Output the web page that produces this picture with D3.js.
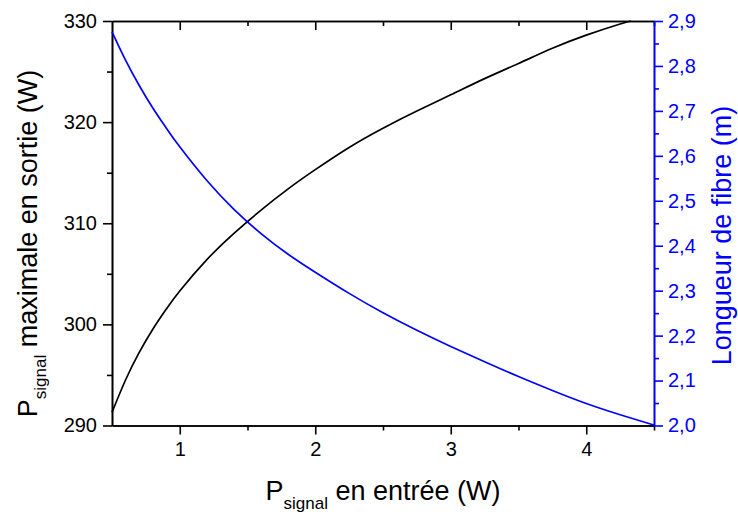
<!DOCTYPE html>
<html lang="fr">
<head>
<meta charset="UTF-8">
<title>Puissance de sortie et longueur de fibre</title>
<script src="https://cdn.jsdelivr.net/npm/d3@7/dist/d3.min.js"></script>
<style>
    body { margin: 0; background: #fff; }
    svg { display: block; font-family: "Liberation Sans", Arial, sans-serif; }
</style>
</head>
<body>
<div id="chart"></div>
<script>
    // P signal en entrée (W) -> P signal maximale en sortie (W)
    const pInSortie = [0.5, 0.6, 0.7, 0.8, 0.9, 1.0, 1.2, 1.4, 1.6, 1.8, 2.0, 2.25, 2.5, 2.75, 3.0, 3.25, 3.5, 3.75, 4.0, 4.25, 4.33];
    const pSortie   = [291.3, 294.5, 297.2, 299.5, 301.5, 303.3, 306.4, 309.0, 311.3, 313.4, 315.3, 317.5, 319.4, 321.1, 322.7, 324.3, 325.8, 327.3, 328.6, 329.7, 330.0];

    // P signal en entrée (W) -> longueur de fibre (m)
    const pInFibre  = [0.5, 0.6, 0.7, 0.8, 0.9, 1.0, 1.2, 1.4, 1.6, 1.8, 2.0, 2.25, 2.5, 2.75, 3.0, 3.25, 3.5, 3.75, 4.0, 4.25, 4.5];
    const longueur  = [2.876, 2.813, 2.757, 2.707, 2.662, 2.620, 2.545, 2.481, 2.427, 2.381, 2.341, 2.294, 2.251, 2.212, 2.176, 2.142, 2.109, 2.078, 2.049, 2.024, 2.001];

    // ticks
    const xTicks = [1, 2, 3, 4];
    const xMinor = [1.5, 2.5, 3.5, 4.5];
    const yLeftTicks = [290, 300, 310, 320, 330];
    const yLeftMinor = [295, 305, 315, 325];
    const yRightTicks = [2.0, 2.1, 2.2, 2.3, 2.4, 2.5, 2.6, 2.7, 2.8, 2.9];
    const yRightMinor = [2.05, 2.15, 2.25, 2.35, 2.45, 2.55, 2.65, 2.75, 2.85];

    const width = 738, height = 514;
    const mLeft = 112, mRight = 654, mTop = 21, mBottom = 425.5;
    const bleu = "#0000ff";

    const x = d3.scaleLinear().domain([0.5, 4.5]).range([mLeft, mRight]);
    const yL = d3.scaleLinear().domain([290, 330]).range([mBottom, mTop]);
    const yR = d3.scaleLinear().domain([2.0, 2.9]).range([mBottom, mTop]);

    const svg = d3.select("#chart").append("svg")
        .attr("width", width)
        .attr("height", height);

    const fmtR = d => d3.format(".1f")(d).replace(".", ",");

    function style(g, color) {
        g.attr("font-family", null).attr("font-size", null);
        g.select(".domain").attr("stroke", color).attr("stroke-width", 1.6);
        g.selectAll(".tick line").attr("stroke", color).attr("stroke-width", 1.6);
        g.selectAll(".tick text").attr("fill", color).attr("font-size", 20);
    }

    // bas
    svg.append("g").attr("transform", `translate(0,${mBottom})`)
        .call(d3.axisBottom(x).tickValues(xMinor).tickSize(5).tickSizeOuter(0).tickFormat(""))
        .call(g => style(g, "#000"));
    svg.append("g").attr("transform", `translate(0,${mBottom})`)
        .call(d3.axisBottom(x).tickValues(xTicks).tickSize(9).tickSizeOuter(0).tickPadding(7).tickFormat(d3.format("d")))
        .call(g => style(g, "#000"));

    // haut (ticks vers l'intérieur)
    svg.append("g").attr("transform", `translate(0,${mTop})`)
        .call(d3.axisBottom(x).tickValues(xMinor).tickSize(5).tickSizeOuter(0).tickFormat(""))
        .call(g => style(g, "#000"));
    svg.append("g").attr("transform", `translate(0,${mTop})`)
        .call(d3.axisBottom(x).tickValues(xTicks).tickSize(9).tickSizeOuter(0).tickFormat(""))
        .call(g => style(g, "#000"));

    // gauche
    svg.append("g").attr("transform", `translate(${mLeft},0)`)
        .call(d3.axisLeft(yL).tickValues(yLeftMinor).tickSize(5).tickSizeOuter(0).tickFormat(""))
        .call(g => style(g, "#000"));
    svg.append("g").attr("transform", `translate(${mLeft},0)`)
        .call(d3.axisLeft(yL).tickValues(yLeftTicks).tickSize(9).tickSizeOuter(0).tickPadding(6).tickFormat(d3.format("d")))
        .call(g => style(g, "#000"));

    // droite (bleu)
    svg.append("g").attr("transform", `translate(${mRight},0)`)
        .call(d3.axisRight(yR).tickValues(yRightMinor).tickSize(5).tickSizeOuter(0).tickFormat(""))
        .call(g => style(g, bleu));
    svg.append("g").attr("transform", `translate(${mRight},0)`)
        .call(d3.axisRight(yR).tickValues(yRightTicks).tickSize(9).tickSizeOuter(0).tickPadding(5).tickFormat(fmtR))
        .call(g => style(g, bleu));

    // courbes
    const lineSortie = d3.line()
        .x((d, i) => x(pInSortie[i]))
        .y(d => yL(d))
        .curve(d3.curveNatural);
    const lineFibre = d3.line()
        .x((d, i) => x(pInFibre[i]))
        .y(d => yR(d))
        .curve(d3.curveNatural);

    svg.append("path")
        .attr("d", lineSortie(pSortie))
        .attr("fill", "none")
        .attr("stroke", "#000")
        .attr("stroke-width", 1.7);

    svg.append("path")
        .attr("d", lineFibre(longueur))
        .attr("fill", "none")
        .attr("stroke", bleu)
        .attr("stroke-width", 1.7);

    // titres
    const xTitle = svg.append("text")
        .attr("x", (mLeft + mRight) / 2)
        .attr("y", 500)
        .attr("text-anchor", "middle")
        .attr("font-size", 27);
    xTitle.append("tspan").text("P");
    xTitle.append("tspan").attr("font-size", 17).attr("dy", 9).text("signal");
    xTitle.append("tspan").attr("dy", -9).text(" en entrée (W)");

    const yTitle = svg.append("text")
        .attr("transform", `translate(37,${(67 + 420) / 2}) rotate(-90)`)
        .attr("text-anchor", "middle")
        .attr("font-size", 27);
    yTitle.append("tspan").text("P");
    yTitle.append("tspan").attr("font-size", 17).attr("dy", 9).text("signal");
    yTitle.append("tspan").attr("dy", -9).text(" maximale en sortie (W)");

    svg.append("text")
        .attr("transform", `translate(731,${(103 + 368) / 2}) rotate(-90)`)
        .attr("text-anchor", "middle")
        .attr("font-size", 27)
        .attr("fill", bleu)
        .text("Longueur de fibre (m)");
</script>
</body>
</html>
